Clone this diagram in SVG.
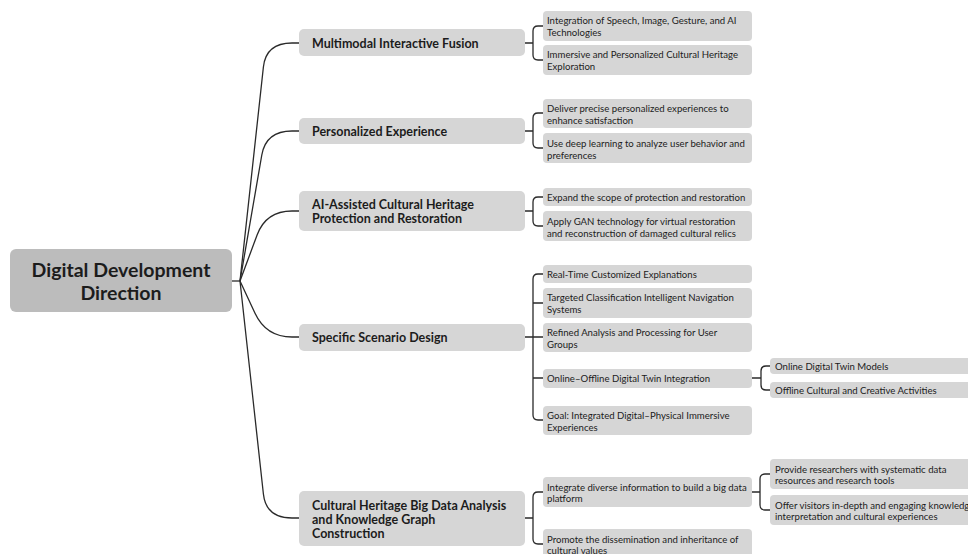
<svg xmlns="http://www.w3.org/2000/svg" width="968" height="554" viewBox="0 0 968 554">
<style>
text{font-family:Lato,"Noto Sans","Liberation Sans",sans-serif;fill:#1c1c1c}
.root rect{fill:#bcbcbc}
.l1 rect{fill:#d6d6d6}
.l2 rect,.l3 rect{fill:#d6d6d6}
.root text{font-size:19.5px;font-weight:700;text-anchor:middle}
.l1 text{font-size:12.5px;font-weight:700}
.l2 text,.l3 text{font-size:9.6px}
.c path{fill:none;stroke:#2a2a2a;stroke-width:1.3}
</style>
<rect width="968" height="554" fill="#fff"/>
<g class="c" id="connectors">
<path d="M232,281H240"/>
<path d="M240,281L263.4,67Q266,43 292,43H299"/>
<path d="M240,281L261.8,155Q266,131 292,131H299"/>
<path d="M240,281L257.1,235Q266,211 292,211H299"/>
<path d="M240,281L254.9,313Q266,337 292,337H299"/>
<path d="M240,281L263.4,494Q266,518 292,518H299"/>
<path d="M525,43H533M543,26H538Q533,26 533,31V55Q533,60 538,60H543"/>
<path d="M525,131H533M543,113H538Q533,113 533,118V143Q533,148 538,148H543"/>
<path d="M525,211H533M543,197H538Q533,197 533,202V221Q533,226 538,226H543"/>
<path d="M525,337H543M543,274H538Q533,274 533,279V415Q533,420 538,420H543M533,303H543M533,378H543"/>
<path d="M525,518H533M543,492H538Q533,492 533,497V539Q533,544 538,544H543"/>
<path d="M752,378H761M770,366H766Q761,366 761,371V385Q761,390 766,390H770"/>
<path d="M752,492H760M770,474H765Q760,474 760,479V505Q760,510 765,510H770"/>
</g>
<g class="root" id="root"><rect x="10" y="249" width="222" height="63" rx="6"/><text x="121" y="277">Digital Development</text><text x="121" y="300">Direction</text></g>
<g class="l1" id="n1"><rect x="299" y="29" width="226" height="27" rx="5"/><text x="312" y="47.5">Multimodal Interactive Fusion</text></g>
<g class="l1" id="n2"><rect x="299" y="118" width="226" height="26" rx="5"/><text x="312" y="135.5">Personalized Experience</text></g>
<g class="l1" id="n3"><rect x="299" y="191" width="226" height="40" rx="5"/><text x="312" y="208.5">AI-Assisted Cultural Heritage</text><text x="312" y="222.5">Protection and Restoration</text></g>
<g class="l1" id="n4"><rect x="299" y="324" width="226" height="27" rx="5"/><text x="312" y="341.5">Specific Scenario Design</text></g>
<g class="l1" id="n5"><rect x="299" y="491" width="226" height="55" rx="5"/><text x="312" y="509.5">Cultural Heritage Big Data Analysis</text><text x="312" y="523.5">and Knowledge Graph</text><text x="312" y="537.5">Construction</text></g>
<g class="l2" id="n1a"><rect x="543" y="11" width="209" height="30" rx="4"/><text x="547" y="23.5">Integration of Speech, Image, Gesture, and AI</text><text x="547" y="35.5">Technologies</text></g>
<g class="l2" id="n1b"><rect x="543" y="45" width="209" height="30" rx="4"/><text x="547" y="57.5">Immersive and Personalized Cultural Heritage</text><text x="547" y="69.5">Exploration</text></g>
<g class="l2" id="n2a"><rect x="543" y="99" width="209" height="29" rx="4"/><text x="547" y="111.5">Deliver precise personalized experiences to</text><text x="547" y="123.5">enhance satisfaction</text></g>
<g class="l2" id="n2b"><rect x="543" y="133" width="209" height="30" rx="4"/><text x="547" y="146.5">Use deep learning to analyze user behavior and</text><text x="547" y="158.5">preferences</text></g>
<g class="l2" id="n3a"><rect x="543" y="188" width="209" height="18" rx="4"/><text x="547" y="200.5">Expand the scope of protection and restoration</text></g>
<g class="l2" id="n3b"><rect x="543" y="211" width="209" height="30" rx="4"/><text x="547" y="224.5">Apply GAN technology for virtual restoration</text><text x="547" y="236.5">and reconstruction of damaged cultural relics</text></g>
<g class="l2" id="n4a"><rect x="543" y="265" width="209" height="18" rx="4"/><text x="547" y="277.5">Real-Time Customized Explanations</text></g>
<g class="l2" id="n4b"><rect x="543" y="288" width="209" height="30" rx="4"/><text x="547" y="300.5">Targeted Classification Intelligent Navigation</text><text x="547" y="312.5">Systems</text></g>
<g class="l2" id="n4c"><rect x="543" y="323" width="209" height="29" rx="4"/><text x="547" y="335.5">Refined Analysis and Processing for User</text><text x="547" y="347.5">Groups</text></g>
<g class="l2" id="n4d"><rect x="543" y="369" width="209" height="19" rx="4"/><text x="547" y="381.5">Online–Offline Digital Twin Integration</text></g>
<g class="l2" id="n4e"><rect x="543" y="406" width="209" height="29" rx="4"/><text x="547" y="418.5">Goal: Integrated Digital–Physical Immersive</text><text x="547" y="430.5">Experiences</text></g>
<g class="l2" id="n5a"><rect x="543" y="477" width="209" height="30" rx="4"/><text x="547" y="490.5">Integrate diverse information to build a big data</text><text x="547" y="501.5">platform</text></g>
<g class="l2" id="n5b"><rect x="543" y="529" width="209" height="30" rx="4"/><text x="547" y="542.5">Promote the dissemination and inheritance of</text><text x="547" y="553.5">cultural values</text></g>
<g class="l3" id="n4d1"><rect x="770" y="358" width="230" height="16" rx="4"/><text x="775" y="369.5">Online Digital Twin Models</text></g>
<g class="l3" id="n4d2"><rect x="770" y="382" width="230" height="16" rx="4"/><text x="775" y="393.5">Offline Cultural and Creative Activities</text></g>
<g class="l3" id="n5a1"><rect x="770" y="459" width="230" height="30" rx="4"/><text x="775" y="472.5">Provide researchers with systematic data</text><text x="775" y="483.5">resources and research tools</text></g>
<g class="l3" id="n5a2"><rect x="770" y="495" width="230" height="30" rx="4"/><text x="775" y="508.5">Offer visitors in-depth and engaging knowledge</text><text x="775" y="519.5">interpretation and cultural experiences</text></g>
</svg>
